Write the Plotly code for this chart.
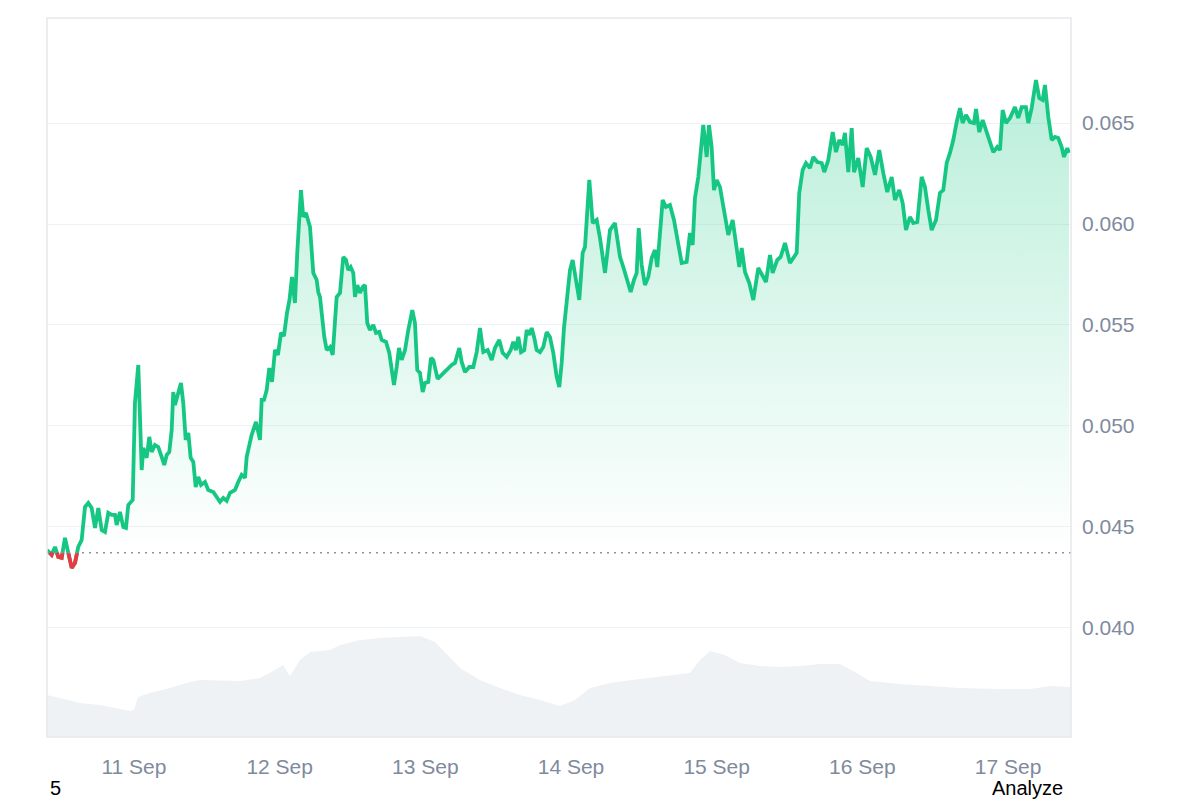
import pandas as pd
import plotly.graph_objects as go

# ---------------- data ----------------
# hours since 2024-09-10 00:00
hours = [9.67, 10.44, 10.99, 11.53, 12.09, 12.63, 13.18, 13.74, 14.28, 14.82, 15.38, 15.93, 16.47, 17.03, 17.58,
         18.12, 18.68, 19.22, 19.77, 20.33, 20.87, 21.15, 21.69, 22.24, 22.68, 23.06, 23.79, 24.16, 24.71, 25.27,
         25.53, 26.09, 26.52, 26.92, 27.46, 28.00, 28.56, 28.99, 29.39, 29.82, 30.21, 30.47, 30.75, 31.30, 31.74,
         32.12, 32.52, 32.95, 33.34, 33.77, 34.17, 34.59, 35.04, 35.70, 36.24, 37.06, 37.62, 38.17, 38.71, 39.27,
         39.82, 40.64, 41.18, 41.74, 42.29, 42.57, 43.39, 44.10, 44.76, 45.04, 45.42, 45.86, 46.29, 46.74, 47.23,
         47.72, 48.22, 48.71, 49.21, 49.62, 50.03, 50.52, 50.90, 51.51, 51.89, 52.34, 53.00, 53.54, 54.10, 54.36,
         54.64, 55.35, 55.75, 56.29, 56.74, 57.39, 57.94, 58.48, 58.93, 59.30, 59.70, 60.13, 60.41, 60.79, 61.23,
         61.68, 62.06, 62.43, 62.88, 63.42, 63.87, 64.41, 64.81, 65.52, 66.06, 66.45, 66.83, 67.28, 67.66, 68.10,
         68.65, 69.19, 69.85, 70.29, 70.67, 71.12, 71.56, 71.94, 72.48, 72.93, 73.31, 74.03, 74.69, 75.52, 76.34,
         76.88, 77.16, 77.59, 77.99, 78.53, 79.24, 79.90, 80.46, 81.00, 81.55, 82.27, 82.93, 83.47, 84.18, 84.74,
         85.40, 86.06, 86.49, 86.93, 87.31, 87.76, 88.30, 88.70, 89.12, 89.52, 89.95, 90.34, 90.89, 91.43, 91.99,
         92.53, 93.08, 93.64, 94.07, 94.46, 94.84, 95.28, 95.83, 96.27, 96.65, 97.36, 97.92, 98.30, 99.01, 99.57,
         100.23, 100.77, 101.60, 102.42, 103.24, 104.07, 104.61, 105.27, 105.83, 106.37, 106.82, 107.15, 107.64,
         108.18, 108.73, 109.29, 109.83, 110.21, 110.54, 111.10, 111.64, 112.30, 112.96, 113.67, 114.23, 115.05,
         115.60, 116.04, 116.42, 116.97, 117.41, 117.79, 118.35, 118.73, 119.17, 119.55, 120.00, 120.54, 120.99,
         121.53, 121.91, 122.63, 123.29, 123.72, 124.12, 124.66, 125.37, 126.03, 126.85, 127.58, 128.12, 128.78,
         129.22, 129.98, 130.54, 131.25, 132.07, 133.18, 133.60, 134.16, 134.71, 135.37, 135.91, 136.57, 137.30,
         137.72, 138.38, 139.11, 139.65, 140.19, 140.75, 141.13, 141.68, 142.24, 142.62, 143.32, 144.05, 144.71,
         145.37, 146.08, 146.78, 147.44, 148.10, 148.83, 149.37, 150.08, 150.64, 151.18, 151.84, 152.39, 153.05,
         153.77, 154.31, 154.86, 155.42, 156.13, 156.78, 157.33, 157.89, 158.43, 158.98, 159.54, 160.08, 160.52,
         161.07, 161.73, 162.39, 162.72, 163.26, 163.82, 164.36, 165.02, 165.57, 166.22, 166.67, 167.11, 167.66,
         168.32, 169.14, 169.68, 170.24, 170.95, 171.33, 171.89, 172.60, 173.14, 173.70, 174.08, 174.63, 175.19,
         175.73, 176.27, 176.83, 177.21, 177.76, 178.04]

price = [0.04386, 0.04362, 0.04401, 0.04352, 0.04347, 0.04446, 0.04372, 0.04297, 0.04322, 0.04401, 0.04436,
         0.04599, 0.04619, 0.04594, 0.04495, 0.04594, 0.04485, 0.04475, 0.04570, 0.04560, 0.04560, 0.04510,
         0.04574, 0.04500, 0.04495, 0.04609, 0.04634, 0.05114, 0.05302, 0.04782, 0.04891, 0.04842, 0.04946,
         0.04871, 0.04906, 0.04896, 0.04847, 0.04807, 0.04857, 0.04871, 0.04980, 0.05168, 0.05104, 0.05168,
         0.05213, 0.05114, 0.04931, 0.04966, 0.04842, 0.04822, 0.04698, 0.04748, 0.04708, 0.04723, 0.04683,
         0.04673, 0.04644, 0.04624, 0.04644, 0.04629, 0.04669, 0.04683, 0.04723, 0.04758, 0.04743, 0.04847,
         0.04956, 0.05020, 0.04931, 0.05129, 0.05129, 0.05178, 0.05287, 0.05218, 0.05376, 0.05352, 0.05461,
         0.05446, 0.05560, 0.05624, 0.05738, 0.05609, 0.05857, 0.06168, 0.06035, 0.06055, 0.05985, 0.05758,
         0.05723, 0.05663, 0.05639, 0.05441, 0.05376, 0.05391, 0.05352, 0.05639, 0.05659, 0.05837, 0.05822,
         0.05772, 0.05787, 0.05758, 0.05639, 0.05698, 0.05659, 0.05688, 0.05698, 0.05510, 0.05475, 0.05500,
         0.05461, 0.05466, 0.05426, 0.05416, 0.05362, 0.05277, 0.05203, 0.05292, 0.05386, 0.05327, 0.05376,
         0.05475, 0.05574, 0.05510, 0.05277, 0.05263, 0.05168, 0.05213, 0.05218, 0.05337, 0.05327, 0.05233,
         0.05253, 0.05277, 0.05302, 0.05312, 0.05337, 0.05386, 0.05317, 0.05267, 0.05292, 0.05292, 0.05366,
         0.05485, 0.05366, 0.05376, 0.05327, 0.05386, 0.05426, 0.05362, 0.05342, 0.05376, 0.05416, 0.05376,
         0.05441, 0.05366, 0.05376, 0.05475, 0.05451, 0.05485, 0.05436, 0.05376, 0.05366, 0.05391, 0.05465,
         0.05441, 0.05362, 0.05243, 0.05193, 0.05312, 0.05485, 0.05609, 0.05772, 0.05822, 0.05758, 0.05624,
         0.05857, 0.05886, 0.06218, 0.06005, 0.06020, 0.05931, 0.05758, 0.05970, 0.06005, 0.05837, 0.05787,
         0.05723, 0.05663, 0.05723, 0.05758, 0.05980, 0.05797, 0.05698, 0.05738, 0.05832, 0.05871, 0.05787,
         0.05921, 0.06119, 0.06084, 0.06094, 0.06020, 0.05886, 0.05807, 0.05812, 0.05956, 0.05896, 0.06129,
         0.06233, 0.06366, 0.06490, 0.06332, 0.06490, 0.06381, 0.06168, 0.06218, 0.06183, 0.06104, 0.06005,
         0.05946, 0.06020, 0.05857, 0.05787, 0.05881, 0.05762, 0.05708, 0.05624, 0.05782, 0.05738, 0.05713,
         0.05847, 0.05758, 0.05822, 0.05837, 0.05906, 0.05807, 0.05857, 0.06154, 0.06267, 0.06302, 0.06277,
         0.06332, 0.06307, 0.06302, 0.06257, 0.06317, 0.06455, 0.06356, 0.06416, 0.06391, 0.06451, 0.06257,
         0.06475, 0.06257, 0.06327, 0.06183, 0.06376, 0.06332, 0.06243, 0.06366, 0.06253, 0.06158, 0.06233,
         0.06119, 0.06168, 0.06104, 0.05970, 0.06035, 0.06005, 0.06010, 0.06233, 0.06183, 0.06069, 0.05970,
         0.06020, 0.06154, 0.06168, 0.06302, 0.06352, 0.06416, 0.06505, 0.06574, 0.06500, 0.06540, 0.06505,
         0.06500, 0.06569, 0.06455, 0.06515, 0.06465, 0.06401, 0.06356, 0.06381, 0.06366, 0.06564, 0.06500,
         0.06525, 0.06579, 0.06525, 0.06579, 0.06579, 0.06500, 0.06574, 0.06713, 0.06624, 0.06614, 0.06688,
         0.06530, 0.06416, 0.06431, 0.06426, 0.06381, 0.06332, 0.06376, 0.06352]

baseline_price = 0.04372

vol_hours = [9.67, 11.81, 15.10, 18.40, 21.69, 23.34, 24.00, 24.66, 26.63, 29.93, 33.22, 34.87, 41.46, 44.76,
             47.23, 48.55, 49.70, 51.35, 53.00, 56.29, 57.94, 61.23, 64.52, 67.82, 71.12, 73.59, 75.24, 77.71,
             81.00, 84.30, 87.59, 90.89, 94.18, 96.65, 99.12, 102.42, 107.36, 112.30, 115.60, 117.25, 118.89,
             121.37, 123.84, 127.13, 130.43, 133.72, 137.02, 140.31, 142.78, 145.25, 150.19, 155.13, 160.08,
             166.67, 171.61, 174.90, 178.37]
volume_musd = [2.10, 1.95, 1.70, 1.60, 1.40, 1.30, 1.35, 2.00, 2.20, 2.45, 2.75, 2.85, 2.80, 2.95, 3.35, 3.60,
               3.05, 3.85, 4.25, 4.35, 4.60, 4.85, 4.95, 5.00, 5.05, 4.75, 4.25, 3.45, 2.85, 2.45, 2.10, 1.85,
               1.55, 1.85, 2.45, 2.70, 2.90, 3.10, 3.20, 3.85, 4.30, 4.10, 3.70, 3.55, 3.50, 3.55, 3.65, 3.65,
               3.25, 2.80, 2.65, 2.55, 2.45, 2.40, 2.40, 2.55, 2.50]

tick_days = ["2024-09-11", "2024-09-12", "2024-09-13", "2024-09-14", "2024-09-15", "2024-09-16", "2024-09-17"]
tick_labels = ["11 Sep", "12 Sep", "13 Sep", "14 Sep", "15 Sep", "16 Sep", "17 Sep"]
y_ticks = [0.040, 0.045, 0.050, 0.055, 0.060, 0.065]
y_tick_labels = ["0.040", "0.045", "0.050", "0.055", "0.060", "0.065"]

# ---------------- build ----------------
GREEN = "#16c784"
RED = "#ea3943"
TICK = "#808a9d"
FONT = "Liberation Sans, Arial, sans-serif"

t0 = pd.Timestamp("2024-09-10")
times = list(t0 + pd.to_timedelta(hours, unit="h"))
vtimes = list(t0 + pd.to_timedelta(vol_hours, unit="h"))

# split the line colour where it crosses the baseline
xs, ys = [], []
for i in range(len(price)):
    if i > 0:
        a, b = price[i - 1], price[i]
        if (a - baseline_price) * (b - baseline_price) < 0:
            f = (baseline_price - a) / (b - a)
            xs.append(times[i - 1] + (times[i] - times[i - 1]) * f)
            ys.append(baseline_price)
    xs.append(times[i])
    ys.append(price[i])
red_y = [y if y <= baseline_price else None for y in ys]

fig = go.Figure()

# volume (secondary hidden axis)
fig.add_trace(go.Scatter(x=vtimes, y=volume_musd, yaxis="y2", mode="lines",
                         line=dict(width=0, color="#eff2f5"),
                         fill="tozeroy", fillcolor="#eff2f5", hoverinfo="skip"))

# baseline for fill
fig.add_trace(go.Scatter(x=[xs[0], xs[-1]], y=[baseline_price, baseline_price], mode="lines",
                         line=dict(width=0), hoverinfo="skip"))

# price line with gradient fill
fig.add_trace(go.Scatter(x=xs, y=ys, mode="lines",
                         line=dict(color=GREEN, width=3.8),
                         fill="tonexty",
                         fillgradient=dict(type="vertical",
                                           colorscale=[[0, "rgba(22,199,132,0)"],
                                                       [1, "rgba(22,199,132,0.30)"]],
                                           start=baseline_price, stop=max(price))))

# red segment (below baseline)
fig.add_trace(go.Scatter(x=xs, y=red_y, mode="lines",
                         line=dict(color=RED, width=3.8), connectgaps=False))

x_start = t0 + pd.to_timedelta(9.67, unit="h")
x_end = t0 + pd.to_timedelta(178.37, unit="h")

fig.update_layout(
    width=1200, height=800,
    margin=dict(l=47, r=129, t=18, b=63),
    paper_bgcolor="white", plot_bgcolor="white",
    showlegend=False,
    font=dict(family=FONT, size=21, color=TICK),
    xaxis=dict(range=[x_start, x_end], showgrid=False, zeroline=False,
               tickvals=[pd.Timestamp(d) for d in tick_days], ticktext=tick_labels,
               ticks="", ticklabelstandoff=15,
               tickfont=dict(size=21, color=TICK), showline=False),
    yaxis=dict(range=[0.03460, 0.07020], side="right", showgrid=True, gridcolor="#eff2f5",
               gridwidth=1, zeroline=False, tickvals=y_ticks, ticktext=y_tick_labels,
               ticks="", ticklabelstandoff=10, tickfont=dict(size=21, color=TICK)),
    yaxis2=dict(range=[0, 35.95], overlaying="y", visible=False, showgrid=False),
    shapes=[
        dict(type="line", xref="paper", yref="y", x0=0, x1=1,
             y0=baseline_price, y1=baseline_price,
             line=dict(color="#8c93a0", width=1.5, dash="2px,5px"), layer="above"),
        dict(type="rect", xref="paper", yref="paper", x0=0, x1=1, y0=0, y1=1,
             line=dict(color="#e6e8ec", width=1.5), layer="above"),
    ],
    annotations=[
        dict(text="5", xref="paper", yref="paper", x=0.001, y=-0.0705,
             xanchor="left", yanchor="middle", showarrow=False,
             font=dict(family=FONT, size=20, color="black")),
        dict(text="Analyze", xref="paper", yref="paper", x=0.994, y=-0.0705,
             xanchor="right", yanchor="middle", showarrow=False,
             font=dict(family=FONT, size=20, color="black")),
    ],
)

fig.write_html("out.html")
